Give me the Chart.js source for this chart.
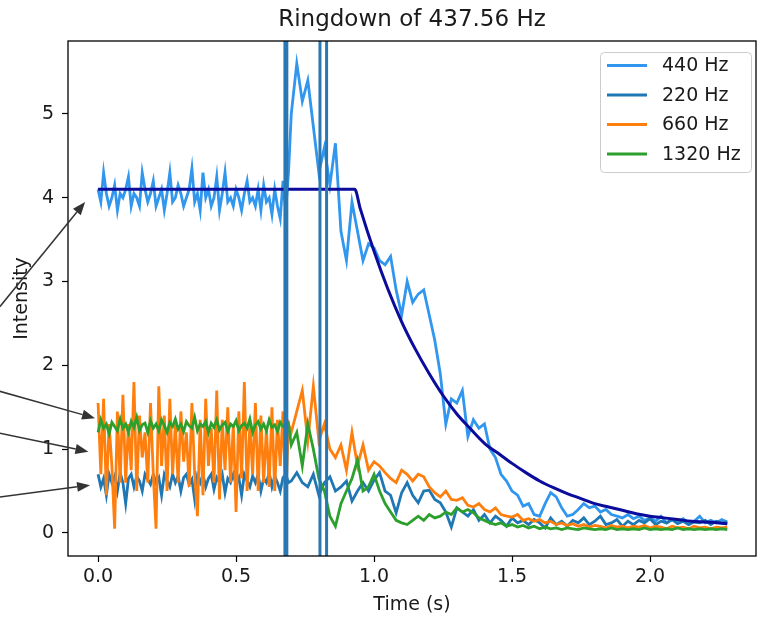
<!DOCTYPE html>
<html>
<head>
<meta charset="utf-8">
<script src="https://cdn.jsdelivr.net/npm/chart.js@4.4.1/dist/chart.umd.min.js"></script>
<style>
  body { margin: 0; background: #fff; }
  canvas { display: block; }
</style>
</head>
<body>
<canvas id="ringdown" width="759" height="618"></canvas>
<script>
// sample times (s)
var times = [
  0,0.01,0.02,0.03,0.04,0.05,0.06,0.07,0.08,0.09,
  0.1,0.11,0.12,0.13,0.14,0.15,0.16,0.17,0.18,0.19,
  0.2,0.21,0.22,0.23,0.24,0.25,0.26,0.27,0.28,0.29,
  0.3,0.31,0.32,0.33,0.34,0.35,0.36,0.37,0.38,0.39,
  0.4,0.41,0.42,0.43,0.44,0.45,0.46,0.47,0.48,0.49,
  0.5,0.51,0.52,0.53,0.54,0.55,0.56,0.57,0.58,0.59,
  0.6,0.61,0.62,0.63,0.64,0.65,0.66,0.67,0.68,0.69,0.7,
  0.72,0.74,0.76,0.78,0.8,0.82,0.84,0.86,0.88,0.9,
  0.92,0.94,0.96,0.98,1.0,1.02,1.04,1.06,1.08,1.1,
  1.12,1.14,1.16,1.18,1.2,1.22,1.24,1.26,1.28,1.3,
  1.32,1.34,1.36,1.38,1.4,1.42,1.44,1.46,1.48,1.5,
  1.52,1.54,1.56,1.58,1.6,1.62,1.64,1.66,1.68,1.7,
  1.72,1.74,1.76,1.78,1.8,1.82,1.84,1.86,1.88,1.9,
  1.92,1.94,1.96,1.98,2.0,2.02,2.04,2.06,2.08,2.1,
  2.12,2.14,2.16,2.18,2.2,2.22,2.24,2.26,2.28
];

var hz440 = [
  4.1,3.95,4.3,4.05,3.9,4.0,4.15,3.85,4.05,4.0,
  4.1,4.25,3.9,4.05,4.0,3.9,4.3,4.1,3.95,4.05,
  4.2,3.9,4.0,4.1,3.85,4.05,4.3,3.95,4.0,4.15,
  4.05,3.9,4.0,4.1,4.35,3.95,4.05,3.85,4.3,4.0,
  4.1,3.9,4.0,4.25,3.85,4.05,4.3,3.95,4.0,3.9,
  4.1,4.0,3.85,4.05,4.2,3.95,4.0,3.9,4.1,3.85,
  4.15,3.95,4.0,3.8,4.1,3.9,3.75,4.2,3.85,4.3,5.0,
  5.6,5.15,5.4,4.85,4.3,4.6,4.15,4.65,3.6,3.25,
  3.95,3.6,3.25,3.45,3.4,3.25,3.2,3.3,2.9,2.6,
  3.0,2.75,2.85,2.9,2.6,2.3,1.9,1.3,1.6,1.55,
  1.7,1.15,1.35,1.25,1.3,1.0,0.9,0.7,0.62,0.5,
  0.45,0.32,0.35,0.22,0.2,0.35,0.48,0.43,0.3,0.2,
  0.22,0.28,0.35,0.3,0.32,0.25,0.28,0.22,0.2,0.18,
  0.22,0.17,0.2,0.15,0.18,0.14,0.2,0.12,0.16,0.13,
  0.17,0.12,0.14,0.2,0.12,0.15,0.12,0.16,0.13
];

var hz220 = [
  0.7,0.55,0.65,0.45,0.7,0.6,0.68,0.5,0.72,0.6,
  0.35,0.65,0.7,0.55,0.68,0.62,0.5,0.7,0.64,0.58,
  0.7,0.6,0.66,0.45,0.7,0.62,0.55,0.7,0.6,0.68,
  0.5,0.66,0.7,0.58,0.64,0.4,0.68,0.6,0.7,0.55,
  0.65,0.7,0.52,0.66,0.6,0.7,0.48,0.65,0.6,0.7,
  0.58,0.66,0.45,0.7,0.62,0.55,0.68,0.6,0.7,0.5,
  0.65,0.6,0.72,0.55,0.68,0.6,0.5,0.66,0.7,0.6,0.62,
  0.72,0.6,0.55,0.7,0.45,0.6,0.67,0.5,0.55,0.62,
  0.38,0.5,0.6,0.5,0.63,0.72,0.5,0.45,0.24,0.48,
  0.6,0.45,0.36,0.5,0.51,0.4,0.36,0.25,0.07,0.3,
  0.25,0.2,0.28,0.15,0.22,0.12,0.2,0.15,0.08,0.18,
  0.12,0.15,0.1,0.16,0.12,0.06,0.18,0.1,0.14,0.08,
  0.15,0.12,0.18,0.1,0.14,0.2,0.1,0.12,0.16,0.08,
  0.14,0.1,0.15,0.12,0.17,0.1,0.14,0.12,0.16,0.11,
  0.14,0.1,0.13,0.12,0.15,0.1,0.14,0.12,0.13
];

var hz660 = [
  1.55,0.7,1.6,0.45,1.3,0.8,0.05,1.45,0.6,1.65,
  0.6,1.3,0.75,1.8,0.5,1.4,0.9,1.2,0.6,1.55,
  0.7,0.05,1.75,0.8,1.4,0.5,1.6,0.7,1.3,0.6,
  1.45,0.85,1.2,0.55,1.55,0.7,0.2,1.35,0.45,1.6,
  0.8,1.25,0.6,1.7,0.4,1.35,0.75,1.5,0.6,1.3,
  0.25,1.45,0.65,1.8,0.5,1.3,0.7,1.55,0.5,1.4,
  0.6,1.25,0.55,1.5,0.5,1.35,0.8,1.45,0.4,1.3,1.2,
  1.45,1.7,1.1,1.75,1.1,1.3,1.0,0.9,1.05,0.75,
  1.2,0.8,1.05,0.75,0.85,0.8,0.72,0.65,0.6,0.75,
  0.7,0.62,0.7,0.67,0.55,0.48,0.43,0.5,0.4,0.39,
  0.42,0.33,0.31,0.35,0.28,0.25,0.3,0.22,0.2,0.19,
  0.22,0.15,0.17,0.14,0.16,0.12,0.14,0.1,0.12,0.09,
  0.11,0.08,0.1,0.07,0.09,0.08,0.06,0.09,0.07,0.08,
  0.06,0.08,0.07,0.09,0.06,0.08,0.07,0.05,0.08,0.06,
  0.07,0.05,0.08,0.06,0.07,0.05,0.07,0.06,0.07
];

var hz1320 = [
  1.2,1.35,1.25,1.3,1.18,1.32,1.27,1.22,1.36,1.25,
  1.3,1.2,1.33,1.26,1.38,1.22,1.29,1.31,1.2,1.34,
  1.25,1.3,1.22,1.35,1.28,1.2,1.32,1.27,1.36,1.24,
  1.3,1.21,1.33,1.28,1.25,1.38,1.22,1.3,1.27,1.33,
  1.2,1.31,1.26,1.35,1.23,1.29,1.32,1.21,1.3,1.27,
  1.34,1.22,1.28,1.31,1.25,1.36,1.2,1.29,1.33,1.24,
  1.3,1.22,1.35,1.26,1.29,1.21,1.32,1.27,1.25,1.3,1.05,
  1.2,0.8,1.3,1.0,0.65,0.5,0.2,0.08,0.35,0.5,
  0.65,0.87,0.5,0.55,0.7,0.5,0.35,0.25,0.15,0.12,
  0.1,0.15,0.2,0.15,0.22,0.18,0.2,0.25,0.22,0.3,
  0.25,0.28,0.24,0.18,0.15,0.12,0.1,0.12,0.08,0.1,
  0.07,0.09,0.06,0.08,0.05,0.07,0.05,0.06,0.04,0.06,
  0.05,0.04,0.06,0.05,0.04,0.05,0.04,0.06,0.04,0.05,
  0.04,0.05,0.04,0.06,0.04,0.05,0.04,0.05,0.04,0.06,
  0.04,0.05,0.04,0.05,0.04,0.05,0.04,0.05,0.04
];

// exponential fit
var fitTimes = [0,0.93,0.95,1.0,1.05,1.1,1.15,1.2,1.25,1.3,1.35,1.4,1.45,1.5,1.55,1.6,1.65,1.7,1.75,1.8,1.85,1.9,1.95,2.0,2.05,2.1,2.15,2.2,2.25,2.28];
var fitValues = [4.1,4.1,3.87,3.36,2.91,2.52,2.19,1.9,1.64,1.42,1.24,1.07,0.95,0.83,0.72,0.62,0.54,0.47,0.41,0.35,0.31,0.27,0.23,0.2,0.18,0.16,0.14,0.13,0.12,0.11];

// vertical marker lines (s)
var markerTimes = [0.677, 0.684, 0.804, 0.828];

// annotation arrows: tail and tip in data units
var arrowTailT = [-0.356, -0.356, -0.356, -0.356];
var arrowTailV = [2.70, 1.69, 1.19, 0.43];
var arrowTipT = [-0.047, -0.011, -0.035, -0.029];
var arrowTipV = [3.95, 1.37, 0.97, 0.57];

var xTicks = [0, 0.5, 1.0, 1.5, 2.0];
var yTicks = [0, 1, 2, 3, 4, 5];

var FONT = "'DejaVu Sans', sans-serif";
var TXT = '#1a1a1a';

function pts(ts, vs) {
  return ts.map(function (t, i) { return {x: t, y: vs[i]}; });
}

var extras = {
  id: 'extras',
  afterDatasetsDraw: function (chart) {
    var ctx = chart.ctx, a = chart.chartArea, x = chart.scales.x;
    ctx.save();
    ctx.beginPath();
    ctx.rect(a.left, a.top, a.right - a.left, a.bottom - a.top);
    ctx.clip();
    ctx.strokeStyle = '#2a78b3';
    ctx.lineWidth = 3;
    markerTimes.forEach(function (t) {
      var px = x.getPixelForValue(t);
      ctx.beginPath();
      ctx.moveTo(px, a.top);
      ctx.lineTo(px, a.bottom);
      ctx.stroke();
    });
    ctx.restore();
    ctx.save();
    ctx.strokeStyle = '#000';
    ctx.lineWidth = 1.3;
    ctx.strokeRect(a.left, a.top, a.right - a.left, a.bottom - a.top);
    ctx.restore();
  },
  afterDraw: function (chart) {
    var ctx = chart.ctx, a = chart.chartArea, x = chart.scales.x, y = chart.scales.y;
    // arrows
    ctx.save();
    ctx.strokeStyle = '#333';
    ctx.fillStyle = '#333';
    ctx.lineWidth = 1.5;
    for (var i = 0; i < arrowTipT.length; i++) {
      var x0 = x.getPixelForValue(arrowTailT[i]), y0 = y.getPixelForValue(arrowTailV[i]);
      var x1 = x.getPixelForValue(arrowTipT[i]), y1 = y.getPixelForValue(arrowTipV[i]);
      var ang = Math.atan2(y1 - y0, x1 - x0);
      var hl = 13, hw = 5;
      var bx = x1 - hl * Math.cos(ang), by = y1 - hl * Math.sin(ang);
      ctx.beginPath();
      ctx.moveTo(x0, y0);
      ctx.lineTo(bx, by);
      ctx.stroke();
      ctx.beginPath();
      ctx.moveTo(x1, y1);
      ctx.lineTo(bx + hw * Math.sin(ang), by - hw * Math.cos(ang));
      ctx.lineTo(bx - hw * Math.sin(ang), by + hw * Math.cos(ang));
      ctx.closePath();
      ctx.fill();
    }
    ctx.restore();
    // legend box, upper right
    var sets = chart.data.datasets.filter(function (d) { return d.inLegend; });
    var w = 151, h = 120;
    var lx = a.right - 5 - w, ly = a.top + 11;
    ctx.save();
    ctx.fillStyle = 'rgba(255,255,255,0.8)';
    ctx.strokeStyle = '#cccccc';
    ctx.lineWidth = 1;
    ctx.beginPath();
    ctx.roundRect(lx + 0.5, ly + 0.5, w, h, 4);
    ctx.fill();
    ctx.stroke();
    ctx.font = '19px ' + FONT;
    ctx.textBaseline = 'middle';
    ctx.fillStyle = TXT;
    sets.forEach(function (d, k) {
      var ry = ly + 13.5 + k * 29.5;
      ctx.strokeStyle = d.borderColor;
      ctx.lineWidth = 2.8;
      ctx.beginPath();
      ctx.moveTo(lx + 7, ry);
      ctx.lineTo(lx + 47, ry);
      ctx.stroke();
      ctx.fillText(d.label, lx + 62, ry + 1);
    });
    ctx.restore();
  }
};

function lineSet(label, data, color, order) {
  return {
    label: label,
    data: data,
    borderColor: color,
    backgroundColor: color,
    borderWidth: 2.8,
    pointRadius: 0,
    tension: 0,
    fill: false,
    order: order,
    inLegend: true
  };
}

var fitSet = {
  label: 'fit',
  data: pts(fitTimes, fitValues),
  borderColor: '#0b0b9c',
  borderWidth: 3,
  pointRadius: 0,
  cubicInterpolationMode: 'monotone',
  fill: false,
  order: 1,
  inLegend: false
};

const ctx = document.getElementById('ringdown');
let rd = new Chart(ctx, {
  type: 'line',
  data: {
    datasets: [
      lineSet('440 Hz', pts(times, hz440), '#3096ee', 5),
      lineSet('220 Hz', pts(times, hz220), '#1f77b4', 4),
      lineSet('660 Hz', pts(times, hz660), '#ff7f0e', 3),
      lineSet('1320 Hz', pts(times, hz1320), '#2ca02c', 2),
      fitSet
    ]
  },
  options: {
    responsive: false,
    animation: false,
    devicePixelRatio: 1,
    layout: { padding: { top: 0, right: 3, bottom: 0, left: 0 } },
    plugins: {
      legend: { display: false },
      tooltip: { enabled: false },
      title: {
        display: true,
        text: 'Ringdown of 437.56 Hz',
        fullSize: false,
        color: TXT,
        font: { family: FONT, size: 23, weight: 'normal' },
        padding: { top: 6, bottom: 7.4 }
      }
    },
    scales: {
      x: {
        type: 'linear',
        min: -0.109,
        max: 2.384,
        afterFit: function (s) { s.height = 62; },
        afterBuildTicks: function (s) { s.ticks = xTicks.map(function (v) { return {value: v}; }); },
        border: { display: false },
        grid: { drawOnChartArea: false, drawTicks: true, tickLength: 6, tickColor: '#000', tickWidth: 1.2 },
        ticks: {
          color: TXT,
          padding: 4,
          maxRotation: 0,
          font: { family: FONT, size: 19 },
          callback: function (v) { return Number(v).toFixed(1); }
        },
        title: {
          display: true,
          text: 'Time (s)',
          color: TXT,
          font: { family: FONT, size: 19 },
          padding: { top: 0, bottom: 2 }
        }
      },
      y: {
        type: 'linear',
        min: -0.275,
        max: 5.87,
        afterFit: function (s) { s.width = 68; },
        afterBuildTicks: function (s) { s.ticks = yTicks.map(function (v) { return {value: v}; }); },
        border: { display: false },
        grid: { drawOnChartArea: false, drawTicks: true, tickLength: 6, tickColor: '#000', tickWidth: 1.2 },
        ticks: {
          color: TXT,
          padding: 8,
          font: { family: FONT, size: 19 },
          callback: function (v) { return String(v); }
        },
        title: {
          display: true,
          text: 'Intensity',
          color: TXT,
          font: { family: FONT, size: 19 },
          padding: { top: 11, bottom: 0 }
        }
      }
    }
  },
  plugins: [extras]
});
</script>
</body>
</html>
